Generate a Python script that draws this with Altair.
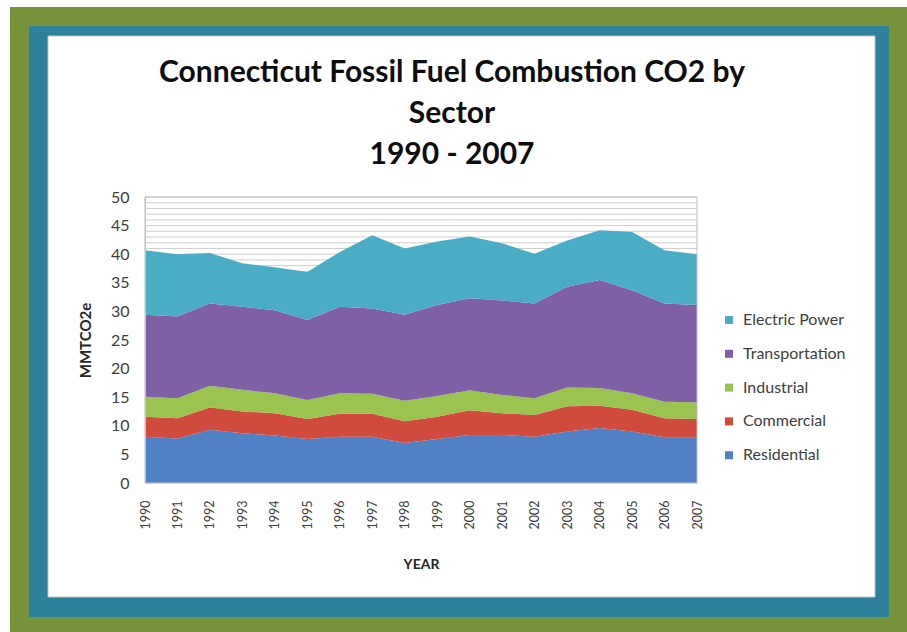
import altair as alt
import pandas as pd

# Connecticut fossil fuel combustion CO2 by sector, MMTCO2e
years = list(range(1990, 2008))
residential = [8.1, 7.8, 9.3, 8.7, 8.3, 7.7, 8.1, 8.1, 7.0, 7.7, 8.4, 8.4, 8.1, 9.0, 9.6, 9.0, 8.0, 8.0]
commercial = [3.5, 3.5, 3.9, 3.8, 3.9, 3.5, 4.0, 4.0, 3.8, 3.9, 4.3, 3.8, 3.8, 4.4, 3.9, 3.8, 3.3, 3.2]
industrial = [3.5, 3.5, 3.8, 3.8, 3.5, 3.3, 3.6, 3.5, 3.6, 3.6, 3.5, 3.2, 2.9, 3.3, 3.1, 2.9, 2.9, 2.9]
transportation = [14.3, 14.3, 14.4, 14.5, 14.5, 14.0, 15.1, 14.9, 15.0, 15.9, 16.1, 16.5, 16.6, 17.6, 18.9, 18.0, 17.2, 17.0]
electric_power = [11.3, 10.9, 8.8, 7.6, 7.5, 8.4, 9.6, 12.8, 11.6, 11.1, 10.8, 10.0, 8.7, 8.1, 8.7, 10.2, 9.3, 8.9]

sectors = ["Electric Power", "Transportation", "Industrial", "Commercial", "Residential"]
sector_colors = ["#4BACC6", "#7F60A6", "#9BC350", "#D04B3E", "#4F81C4"]
series = {
    "Residential": residential,
    "Commercial": commercial,
    "Industrial": industrial,
    "Transportation": transportation,
    "Electric Power": electric_power,
}
y_ticks = list(range(0, 51, 5))
grid_levels = list(range(0, 51))

rows = []
for rank, name in enumerate(["Residential", "Commercial", "Industrial", "Transportation", "Electric Power"]):
    for yr, v in zip(years, series[name]):
        rows.append({"year": yr, "sector": name, "value": v, "rank": rank})
df = pd.DataFrame(rows)

FONT = "Lato"
W, H = 552, 286
PAD = {"left": 145, "top": 197, "right": 210, "bottom": 149}
y_scale = alt.Scale(domain=[0, 50], nice=False)
one = pd.DataFrame({"k": [0]})

y_axis = alt.Axis(
    values=y_ticks, title="MMTCO2e",
    labelFont=FONT, labelFontSize=16, labelColor="#404040",
    titleFont=FONT, titleFontSize=15, titleFontWeight="bold", titleColor="#262626",
    titlePadding=17, labelPadding=16, tickSize=0, domain=True, domainColor="#BFBFBF",
    grid=False, zindex=1,
)


def panel(color, x0, x1, y0, y1, stroke=None):
    kw = {"color": color}
    if stroke:
        kw.update(stroke=stroke, strokeWidth=1)
    return alt.Chart(one).mark_rect(**kw).encode(
        x=alt.value(x0 - PAD["left"]), x2=alt.value(x1 - PAD["left"]),
        y=alt.value(y0 - PAD["top"]), y2=alt.value(y1 - PAD["top"]),
    )


outer = panel("#76923A", 10, 907, 7, 632)
middle = panel("#2E819B", 29, 889, 26, 617)
inner = panel("#FFFFFF", 48, 875, 36, 597, stroke="#C4C4C4")

# one light rule per unit on the value axis
grid = alt.Chart(pd.DataFrame({"value": grid_levels})).mark_rule(
    color="#CFCFCF", strokeWidth=1
).encode(y=alt.Y("value:Q", scale=y_scale, axis=y_axis))

areas = alt.Chart(df).mark_area(opacity=1).encode(
    x=alt.X(
        "year:Q",
        scale=alt.Scale(domain=[1990, 2007], nice=False, zero=False),
        axis=alt.Axis(
            values=years, format="d", labelAngle=270, title="YEAR",
            labelFont=FONT, labelFontSize=12.5, labelColor="#404040",
            titleFont=FONT, titleFontSize=14, titleFontWeight="bold", titleColor="#262626",
            titlePadding=29, labelPadding=17, tickSize=0, domain=False, grid=False,
            zindex=1,
        ),
    ),
    y=alt.Y("value:Q", stack="zero", scale=y_scale, axis=y_axis),
    color=alt.Color(
        "sector:N",
        scale=alt.Scale(domain=sectors, range=sector_colors),
        legend=alt.Legend(
            title=None, orient="none", legendX=576, legendY=115,
            symbolType="square", symbolSize=64, symbolStrokeWidth=0,
            labelFont=FONT, labelFontSize=16, labelColor="#404040",
            rowPadding=17.8, labelOffset=6, padding=0,
        ),
    ),
    order=alt.Order("rank:Q", sort="ascending"),
)

border = alt.Chart(one).mark_rect(filled=False, stroke="#BFBFBF", strokeWidth=1).encode(
    x=alt.value(0), x2=alt.value(W), y=alt.value(0), y2=alt.value(H)
)

chart = alt.layer(outer, middle, inner, grid, areas, border).properties(
    width=W,
    height=H,
    padding=PAD,
    autosize=alt.AutoSizeParams(type="none"),
    background="#FFFFFF",
    title=alt.TitleParams(
        text=["Connecticut Fossil Fuel Combustion CO2 by", "Sector", "1990 - 2007"],
        font=FONT, fontSize=30, fontWeight="bold", color="#0D0D0D",
        anchor="middle", dx=31, offset=-163, lineHeight=41,
    ),
).configure_view(stroke=None)

chart.save("out.html", embed_options={"renderer": "svg", "actions": False})
